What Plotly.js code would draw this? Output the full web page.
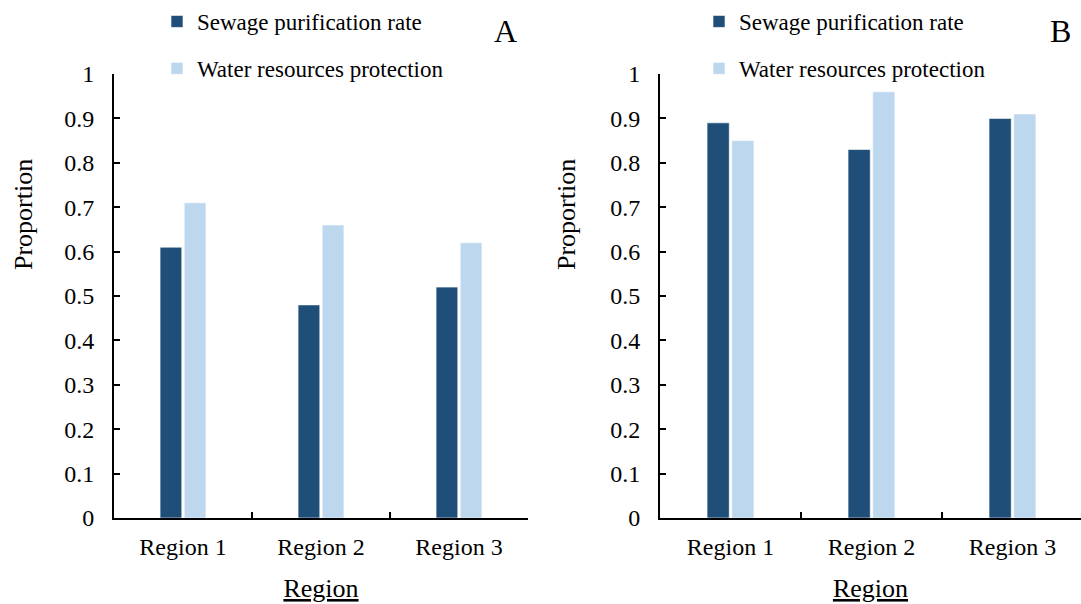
<!DOCTYPE html>
<html>
<head>
<meta charset="utf-8">
<script src="https://cdn.plot.ly/plotly-3.0.1.min.js"></script>
<style>html,body{margin:0;padding:0;background:#fff;}#chart{width:1081px;height:604px;}</style>
</head>
<body>
<div id="chart"></div>
<script>
const regions = ["Region 1", "Region 2", "Region 3"];
const seriesNames = ["Sewage purification rate", "Water resources protection"];
const sewageA = [0.61, 0.48, 0.52];
const waterA  = [0.71, 0.66, 0.62];
const sewageB = [0.89, 0.83, 0.90];
const waterB  = [0.85, 0.96, 0.91];
const colors = ["#1F4E79", "#BDD7EE"];
const FONT = "Liberation Serif, Times New Roman, serif";

function bar(y, i, xa, ya, leg) {
  return {
    type: "bar", x: regions, y: y, name: seriesNames[i],
    xaxis: xa, yaxis: ya, legend: leg, legendgroup: leg + i,
    marker: {color: colors[i], line: {color: "rgba(255,255,255,0.6)", width: 1}},
    hoverinfo: "skip"
  };
}
const data = [
  bar(sewageA, 0, "x", "y", "legend"),
  bar(waterA, 1, "x", "y", "legend"),
  bar(sewageB, 0, "x2", "y2", "legend2"),
  bar(waterB, 1, "x2", "y2", "legend2")
];

const W = 1081, L = 110, PW = W - L, T = 74, PH = 444;
const px = v => (v - L) / PW;
const py = v => (T + PH - v) / PH;
function xax(domain, range, anchor) {
  return {
    anchor: anchor, domain: domain, range: range, type: "category",
    showline: true, linecolor: "#000", linewidth: 2,
    ticks: "inside", ticklen: 6, tickwidth: 2, tickcolor: "#000",
    tickson: "boundaries", showgrid: false, zeroline: false,
    tickangle: 0, automargin: false,
    tickfont: {family: FONT, size: 24, color: "#000"},
    ticklabelstandoff: 6,
    title: {text: "<u>Region</u>", font: {family: FONT, size: 26, color: "#000"}, standoff: 20},
    fixedrange: true
  };
}
function yax(anchor) {
  return {
    anchor: anchor, range: [0, 1], dtick: 0.1, tick0: 0,
    showline: true, linecolor: "#000", linewidth: 2,
    ticks: "inside", ticklen: 6, tickwidth: 2, tickcolor: "#000",
    showgrid: false, zeroline: false, automargin: false,
    tickfont: {family: FONT, size: 24, color: "#000"},
    ticklabelstandoff: 13,
    fixedrange: true
  };
}
function legend(xpx) {
  return {
    x: xpx / W, xref: "container", xanchor: "left",
    y: 1, yref: "container", yanchor: "top",
    orientation: "v", traceorder: "grouped", tracegroupgap: 14,
    font: {family: FONT, size: 23, color: "#000"},
    bgcolor: "rgba(0,0,0,0)", borderwidth: 0
  };
}
function label(text, xpx, ypx, size, angle) {
  return {text: text, x: px(xpx), y: py(ypx), xref: "paper", yref: "paper", showarrow: false,
          xanchor: "center", yanchor: "middle", textangle: angle || 0,
          font: {family: FONT, size: size, color: "#000"}};
}
const layout = {
  width: 1081, height: 604,
  margin: {l: L, r: 0, t: T, b: 86, autoexpand: false},
  paper_bgcolor: "#fff", plot_bgcolor: "#fff",
  barmode: "group", bargap: 0.65, bargroupgap: 0.1,
  showlegend: true,
  font: {family: FONT, color: "#000"},
  xaxis: xax([px(114), px(528)], [-0.5, 2.5], "y"),
  yaxis: yax("x"),
  xaxis2: xax([px(660), 1], [-0.5, 2.486], "y2"),
  yaxis2: yax("x2"),
  legend: legend(157),
  legend2: legend(699),
  annotations: [
    label("A", 505, 31, 32),
    label("B", 1060, 31, 32),
    label("Proportion", 23, 215, 26, -90),
    label("Proportion", 566, 215, 26, -90)
  ]
};
Plotly.newPlot("chart", data, layout, {displayModeBar: false, staticPlot: true});
</script>
</body>
</html>
